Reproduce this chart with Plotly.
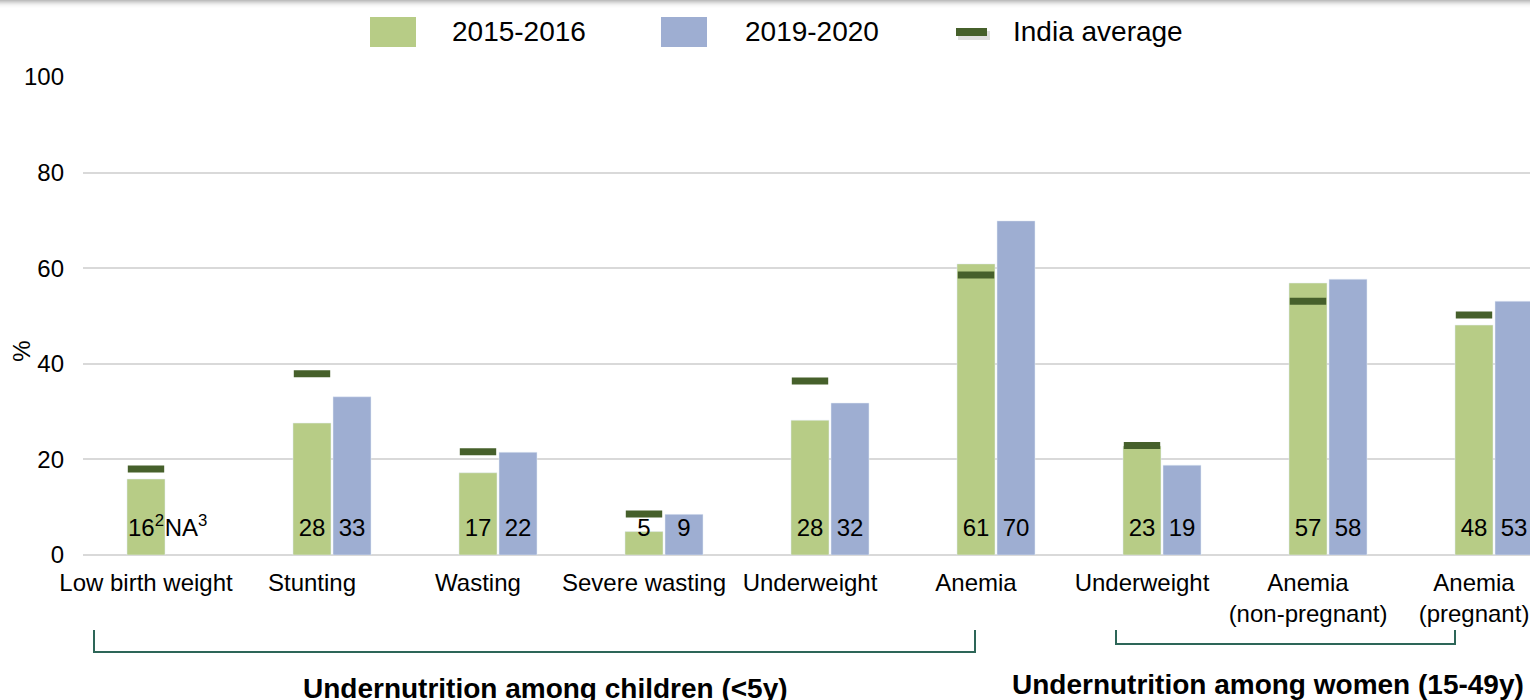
import plotly.graph_objects as go

# ---------------- data ----------------
categories = ["Low birth weight", "Stunting", "Wasting", "Severe wasting", "Underweight",
              "Anemia", "Underweight", "Anemia<br>(non-pregnant)", "Anemia<br>(pregnant)"]
v2015 = [15.9, 27.6, 17.2, 4.9, 28.2, 60.9, 22.8, 56.9, 48.1]
v2019 = [None, 33.1, 21.5, 8.5, 31.8, 69.9, 18.8, 57.7, 53.1]
india_avg = [18.0, 37.9, 21.6, 8.6, 36.4, 58.6, 22.9, 53.1, 50.2]
labels2015 = ["16<sup>2</sup>", "28", "17", "5", "28", "61", "23", "57", "48"]
labels2019 = ["NA<sup>3</sup>", "33", "22", "9", "32", "70", "19", "58", "53"]
series_names = ["2015-2016", "2019-2020", "India average"]
group_titles = ["Undernutrition among children (<5y)", "Undernutrition among women (15-49y)"]
yticks = [0, 20, 40, 60, 80, 100]

# ---------------- style ----------------
GREEN = "#b7cc86"
BLUE = "#9eaed2"
DARK = "#46602b"
TEAL = "#2d6658"
FONT = "Arial, Liberation Sans, sans-serif"

W, H = 1530, 700
ML, MR, MT, MB = 83, 0, 77, 145
PW, PH = W - ML - MR, H - MT - MB
CAT_PX = 166  # pixel width of one category slot

BARGAP = 0.518
GW = 1 - BARGAP
OFF = GW / 4
idx = list(range(len(categories)))
x_green = [i - OFF for i in idx]
x_blue = [i + OFF for i in idx]


def px(x):
    return (x - ML) / PW


def py(y):
    return (H - MB - y) / PH


fig = go.Figure()
fig.add_trace(go.Bar(x=idx, y=v2015, name=series_names[0], marker_color=GREEN,
                     showlegend=False, hoverinfo="skip"))
fig.add_trace(go.Bar(x=idx, y=v2019, name=series_names[1], marker_color=BLUE,
                     showlegend=False, hoverinfo="skip"))
fig.add_trace(go.Scatter(x=x_green, y=india_avg, mode="markers", name=series_names[2],
                         marker=dict(symbol="line-ew", size=26,
                                     line=dict(width=7, color=DARK)),
                         showlegend=False, hoverinfo="skip", cliponaxis=False))
label_y = [5.2] * len(idx)
fig.add_trace(go.Scatter(x=x_green, y=label_y, mode="text", text=labels2015,
                         textposition="middle center",
                         textfont=dict(size=24, color="#000000", family=FONT),
                         showlegend=False, hoverinfo="skip", cliponaxis=False))
fig.add_trace(go.Scatter(x=x_blue, y=label_y, mode="text", text=labels2019,
                         textposition="middle center",
                         textfont=dict(size=24, color="#000000", family=FONT),
                         showlegend=False, hoverinfo="skip", cliponaxis=False))

shapes = []
# top shadow band
shade = [0.45, 0.35, 0.26, 0.18, 0.11, 0.06, 0.03, 0.015]
for k, op in enumerate(shade):
    shapes.append(dict(type="rect", xref="paper", yref="paper",
                       x0=px(0), x1=px(W), y0=py(k), y1=py(k + 1),
                       fillcolor="#6e6e6e", opacity=op, line=dict(width=0), layer="above"))

# legend swatches
shapes.append(dict(type="rect", xref="paper", yref="paper", x0=px(370), x1=px(416),
                   y0=py(17), y1=py(47), fillcolor=GREEN, line=dict(width=0)))
shapes.append(dict(type="rect", xref="paper", yref="paper", x0=px(661), x1=px(707),
                   y0=py(17), y1=py(47), fillcolor=BLUE, line=dict(width=0)))
shapes.append(dict(type="rect", xref="paper", yref="paper", x0=px(958), x1=px(990),
                   y0=py(31), y1=py(40), fillcolor="#000000", opacity=0.12, line=dict(width=0)))
shapes.append(dict(type="rect", xref="paper", yref="paper", x0=px(956), x1=px(987),
                   y0=py(28), y1=py(36), fillcolor=DARK, line=dict(width=0)))


# brackets
def bracket(x0, x1, ytop, ybot):
    return dict(type="path", xref="paper", yref="paper",
                path=f"M {px(x0)},{py(ytop)} L {px(x0)},{py(ybot)} L {px(x1)},{py(ybot)} L {px(x1)},{py(ytop)}",
                line=dict(color=TEAL, width=2))


shapes.append(bracket(94, 975, 630, 652))
shapes.append(bracket(1116, 1455, 630, 644))

annotations = []
leg_font = dict(size=28, color="#000000", family=FONT)
for xpos, txt in [(450, series_names[0]), (743, series_names[1]), (1011, series_names[2])]:
    annotations.append(dict(x=px(xpos), y=py(32), xref="paper", yref="paper", text=txt,
                            showarrow=False, xanchor="left", yanchor="middle", font=leg_font))
annotations.append(dict(x=px(545), y=py(688), xref="paper", yref="paper",
                        text="<b>" + group_titles[0].replace("<", "&lt;") + "</b>",
                        showarrow=False, xanchor="center", yanchor="middle",
                        font=dict(size=28, color="#000000", family=FONT)))
annotations.append(dict(x=px(1268), y=py(684), xref="paper", yref="paper",
                        text="<b>" + group_titles[1] + "</b>",
                        showarrow=False, xanchor="center", yanchor="middle",
                        font=dict(size=28, color="#000000", family=FONT)))
annotations.append(dict(x=px(22), y=42.5, xref="paper", yref="y", text="%", textangle=-90,
                        showarrow=False, xanchor="center", yanchor="middle",
                        font=dict(size=24, color="#000000", family=FONT)))

fig.update_layout(
    width=W, height=H,
    margin=dict(l=ML, r=MR, t=MT, b=MB, pad=0),
    paper_bgcolor="white", plot_bgcolor="white",
    barmode="group", bargap=BARGAP, bargroupgap=0.05,
    showlegend=False,
    shapes=shapes, annotations=annotations,
    font=dict(family=FONT, color="#000000"),
    xaxis=dict(range=[-0.5, -0.5 + PW / CAT_PX], tickmode="array",
               tickvals=x_green, ticktext=categories, showgrid=False, zeroline=False,
               showline=False, ticks="", tickfont=dict(size=24, color="#000000", family=FONT),
               ticklabelstandoff=11, fixedrange=True),
    yaxis=dict(range=[0, 100], tickmode="array", tickvals=yticks, showgrid=True,
               gridcolor="#d9d9d9", gridwidth=2, zeroline=True, zerolinecolor="#d9d9d9",
               zerolinewidth=2, showline=False, ticks="",
               tickfont=dict(size=24, color="#000000", family=FONT),
               ticklabelstandoff=18, fixedrange=True),
)

fig.write_html("out.html", config={"displayModeBar": False},
               post_script="document.body.style.margin='0';document.body.style.overflow='hidden';")
